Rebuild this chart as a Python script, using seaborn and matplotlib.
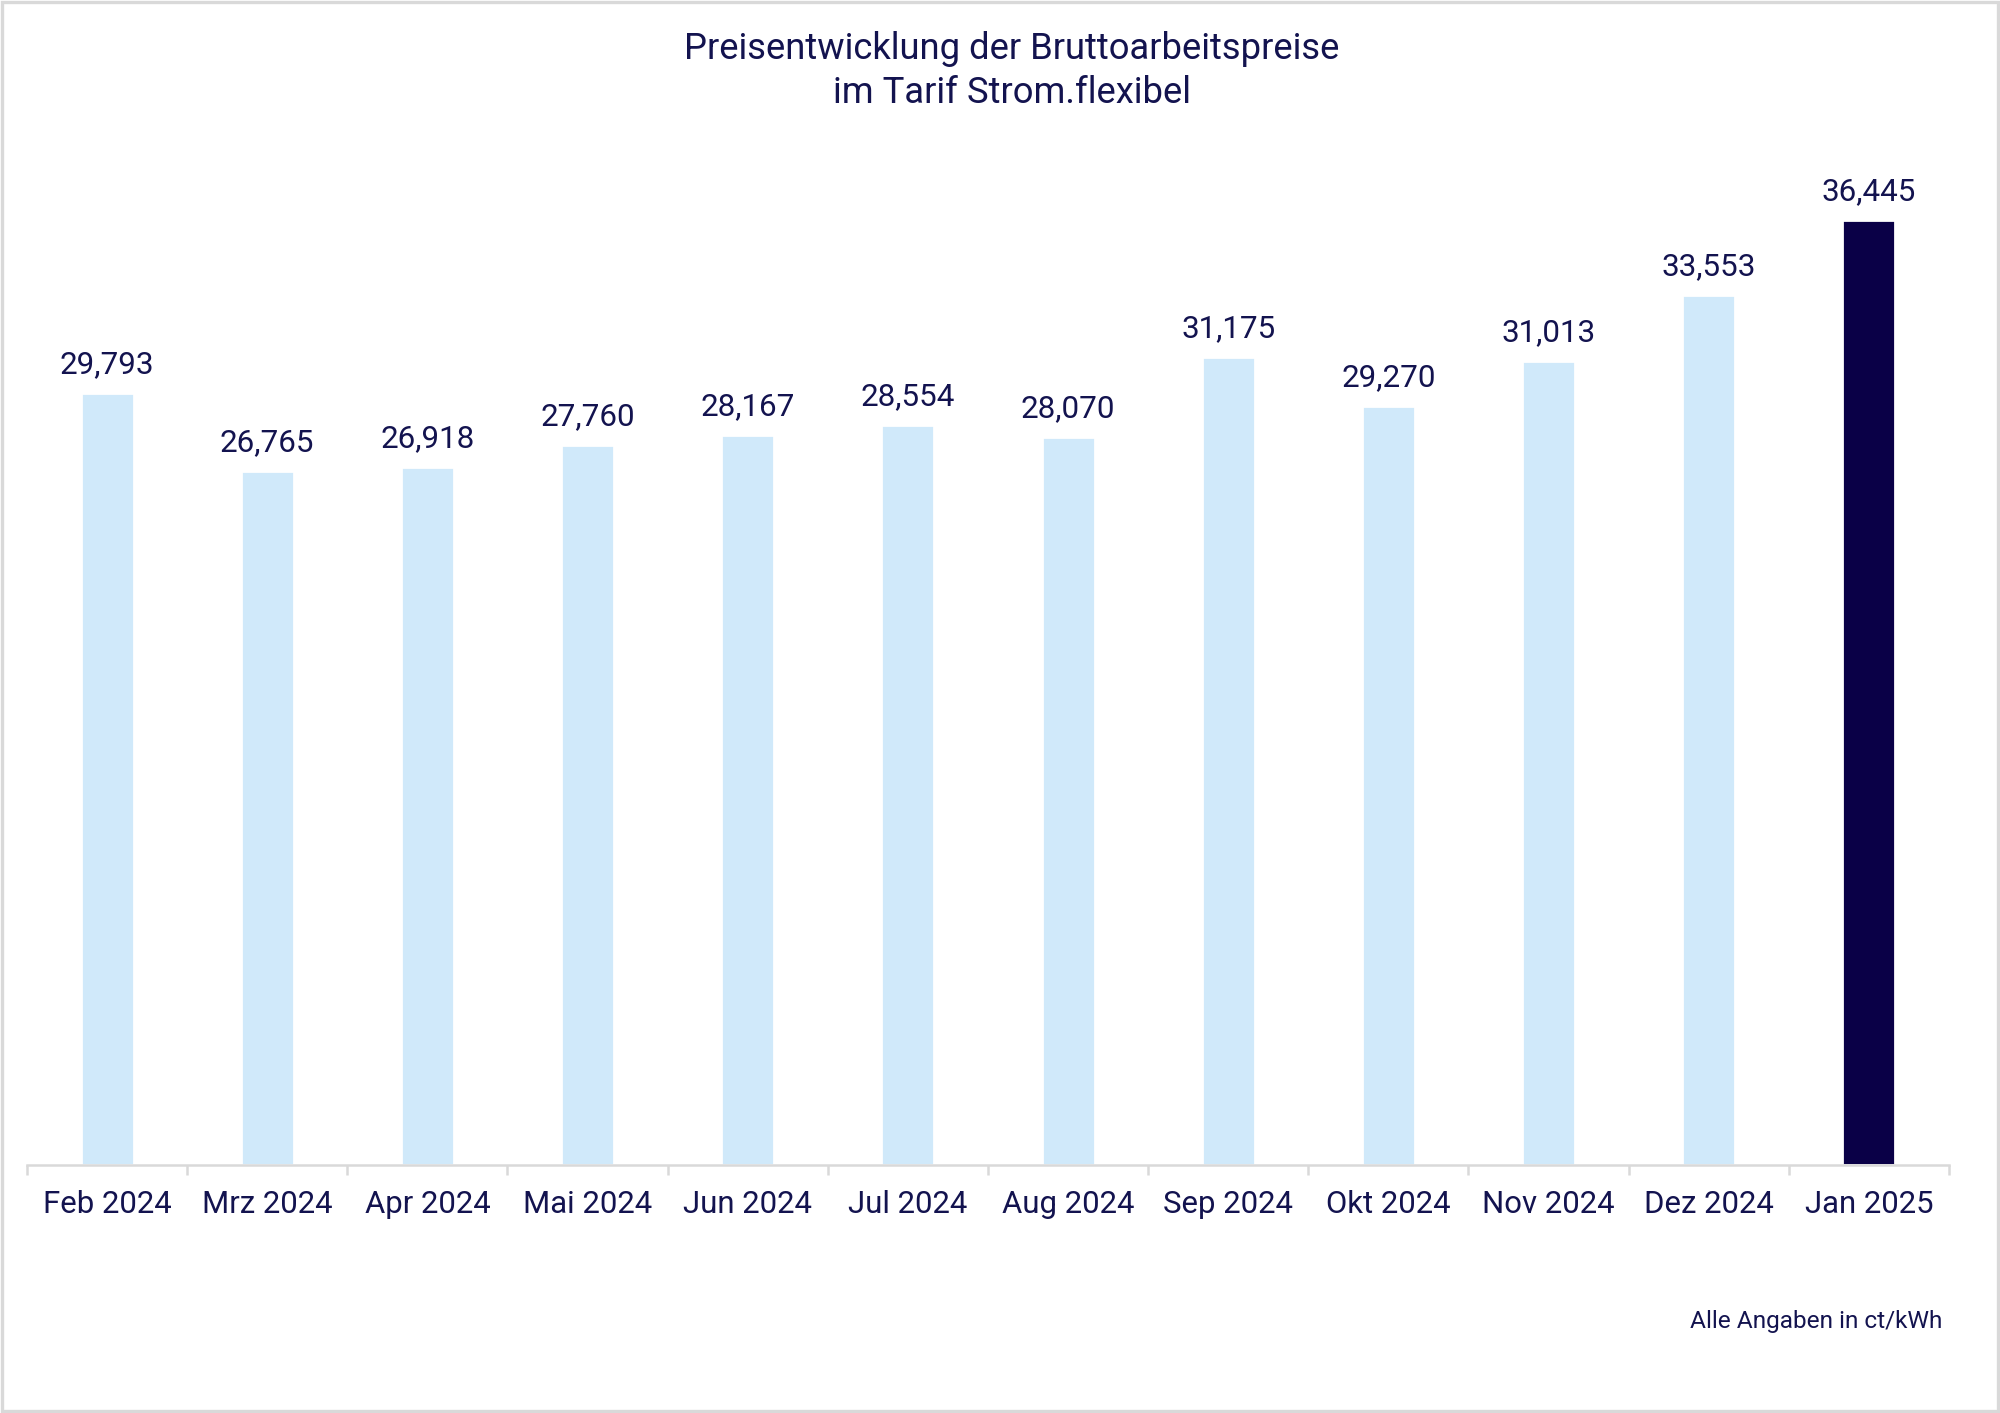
import matplotlib
matplotlib.use("Agg")
import matplotlib.pyplot as plt
from matplotlib.patches import Rectangle
from matplotlib.ticker import FixedLocator
import seaborn as sns
import pandas as pd

# data
months = ["Feb 2024", "Mrz 2024", "Apr 2024", "Mai 2024", "Jun 2024", "Jul 2024",
          "Aug 2024", "Sep 2024", "Okt 2024", "Nov 2024", "Dez 2024", "Jan 2025"]
prices = [29.793, 26.765, 26.918, 27.760, 28.167, 28.554,
          28.070, 31.175, 29.270, 31.013, 33.553, 36.445]

light = "#D0E9FA"
dark = "#0A0047"
navy = "#13134F"
grey = "#D9D9D9"

df = pd.DataFrame({"Monat": months, "Preis": prices})
bar_colors = {m: (dark if i == len(months) - 1 else light) for i, m in enumerate(months)}

sns.set_style("white")
plt.rcParams["font.family"] = ["Roboto", "DejaVu Sans"]

fig = plt.figure(figsize=(10, 7.065), dpi=200)
ax = fig.add_axes([0.0135, 0.1755, 0.961, 0.734])

sns.barplot(data=df, x="Monat", y="Preis", hue="Monat", palette=bar_colors,
            legend=False, width=0.33, saturation=1, ax=ax)

ax.set_ylim(0, 40)
ax.set_xlim(-0.5, len(months) - 0.5)
ax.set_xlabel("")
ax.set_ylabel("")
ax.set_yticks([])

for side in ["left", "right", "top"]:
    ax.spines[side].set_visible(False)
ax.spines["bottom"].set_color(grey)
ax.spines["bottom"].set_linewidth(0.9)

# tick marks sit between the categories
ax.tick_params(axis="x", which="major", bottom=True, length=0, pad=9,
               labelsize=11.2, labelcolor=navy)
ax.xaxis.set_minor_locator(FixedLocator([i - 0.5 for i in range(len(months) + 1)]))
ax.tick_params(axis="x", which="minor", bottom=True, length=3.6, width=0.9, color=grey)

for cont in ax.containers:
    ax.bar_label(cont, labels=[f"{v:.3f}".replace(".", ",") for v in cont.datavalues],
                 padding=5, fontsize=11.3, color=navy)

fig.text(0.506, 0.9495, "Preisentwicklung der Bruttoarbeitspreise\nim Tarif Strom.flexibel",
         ha="center", va="center", fontsize=13.1, color=navy, linespacing=1.29)
fig.text(0.971, 0.0645, "Alle Angaben in ct/kWh", ha="right", va="center",
         fontsize=8.8, color=navy)

# thin frame around the whole picture
fig.patches.append(Rectangle((0.001, 0.0015), 0.998, 0.997, transform=fig.transFigure,
                             fill=False, edgecolor=grey, linewidth=1.2))

fig.savefig("out.png", dpi=200, facecolor="white")
